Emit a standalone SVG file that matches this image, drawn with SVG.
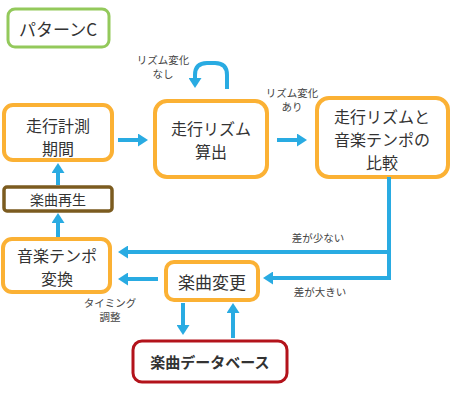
<svg xmlns="http://www.w3.org/2000/svg" width="455" height="400" viewBox="0 0 455 400">
<style>
.box{fill:#fff;stroke:#fbb134;stroke-width:4}
.t{font-family:"Noto Sans CJK JP","Noto Sans",sans-serif;fill:#333;text-anchor:middle;dominant-baseline:central}
.n{font-size:16px}
.s{font-size:10.5px;fill:#444}
.c{fill:none;stroke:#29abe2;stroke-width:4}
</style>
<defs>
<marker id="ah" markerUnits="userSpaceOnUse" markerWidth="10" markerHeight="13" refX="2" refY="6.5" orient="auto">
<path d="M0,0 L10,6.5 L0,13 z" fill="#29abe2"/>
</marker>
</defs>
<rect width="455" height="400" fill="#fff"/>
<g id="pattern">
<rect x="8" y="9" width="101" height="38" rx="7" fill="#fff" stroke="#93c95b" stroke-width="3"/>
<text class="t" x="58" y="28" font-size="17">パターンC</text>
</g>
<g id="measure">
<rect class="box" x="4" y="105" width="108" height="55" rx="9"/>
<text class="t n" x="58" y="125">走行計測</text>
<text class="t n" x="58" y="148">期間</text>
</g>
<g id="play">
<rect x="4" y="187" width="108" height="24" rx="3" fill="#fff" stroke="#7b5b1f" stroke-width="3.5"/>
<text class="t" x="58" y="199" font-size="14">楽曲再生</text>
</g>
<g id="rhythm">
<rect class="box" x="155" y="101" width="112" height="76" rx="12"/>
<text class="t n" x="211" y="128">走行リズム</text>
<text class="t n" x="211" y="151">算出</text>
</g>
<g id="compare">
<rect class="box" x="317" y="98" width="131" height="79" rx="12"/>
<text class="t n" x="382" y="116">走行リズムと</text>
<text class="t n" x="382" y="139">音楽テンポの</text>
<text class="t n" x="382" y="162">比較</text>
</g>
<g id="tempo">
<rect class="box" x="3" y="239" width="107" height="53" rx="9"/>
<text class="t n" x="57" y="255">音楽テンポ</text>
<text class="t n" x="57" y="278">変換</text>
</g>
<g id="change">
<rect class="box" x="166" y="262" width="92" height="38" rx="8"/>
<text class="t" x="212" y="281" font-size="17">楽曲変更</text>
</g>
<g id="db">
<rect x="133" y="341" width="154" height="41" rx="9" fill="#fff" stroke="#b3131b" stroke-width="3"/>
<text class="t" x="210" y="361" font-size="15" font-weight="bold" fill="#111">楽曲データベース</text>
</g>
<g id="connectors">
<line class="c" x1="118" y1="140" x2="140" y2="140" marker-end="url(#ah)"/>
<line class="c" x1="277" y1="140" x2="299" y2="140" marker-end="url(#ah)"/>
<line class="c" x1="58" y1="185" x2="58" y2="171" marker-end="url(#ah)"/>
<line class="c" x1="58" y1="237" x2="58" y2="221" marker-end="url(#ah)"/>
<path class="c" d="M227,89 V75 Q227,63 215,63 H207 Q195,63 195,75 V80" marker-end="url(#ah)"/>
<path class="c" d="M389,177 V278 H271" marker-end="url(#ah)"/>
<path class="c" d="M389,252 H126" marker-end="url(#ah)"/>
<line class="c" x1="158" y1="279" x2="126" y2="279" marker-end="url(#ah)"/>
<line class="c" x1="183" y1="303" x2="183" y2="327" marker-end="url(#ah)"/>
<line class="c" x1="233" y1="338" x2="233" y2="311" marker-end="url(#ah)"/>
<text class="t s" x="163" y="59">リズム変化</text>
<text class="t s" x="163" y="73.5">なし</text>
<text class="t s" x="292" y="92">リズム変化</text>
<text class="t s" x="292" y="106.5">あり</text>
<text class="t s" x="318" y="237">差が少ない</text>
<text class="t s" x="320" y="291">差が大きい</text>
<text class="t s" x="110" y="302">タイミング</text>
<text class="t s" x="110" y="316.5">調整</text>
</g>
</svg>
